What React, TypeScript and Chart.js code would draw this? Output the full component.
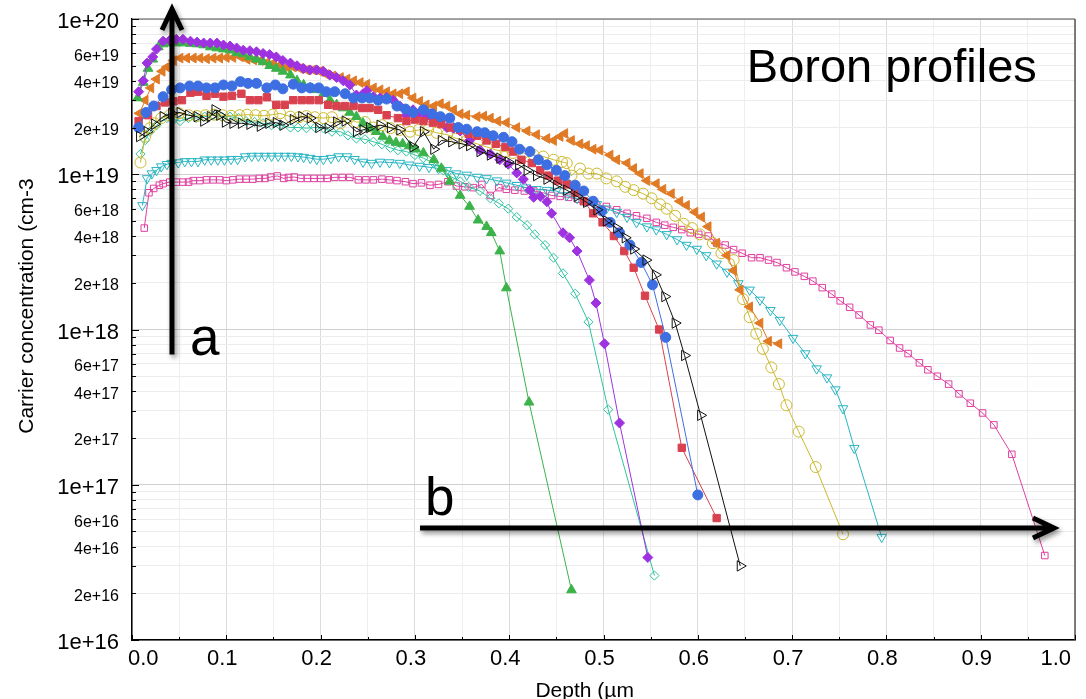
import React, { useEffect, useRef } from 'react';
import { Chart, registerables } from 'chart.js';

Chart.register(...registerables);

const FONT = "'Liberation Sans', Arial, Helvetica, sans-serif";

// ---- axis / tick data ----
const xGridValues = [0, 0.05, 0.1, 0.15, 0.2, 0.25, 0.3, 0.35, 0.4, 0.45, 0.5, 0.55, 0.6, 0.65, 0.7, 0.75, 0.8, 0.85, 0.9, 0.95, 1.0];
const xTickLabels = ['0.0', '', '0.1', '', '0.2', '', '0.3', '', '0.4', '', '0.5', '', '0.6', '', '0.7', '', '0.8', '', '0.9', '', '1.0'];
const yDecades = [16, 17, 18, 19, 20];
const yMultipliers = [1, 2, 3, 4, 5, 6, 7, 8, 9];
const yLabelledMultipliers = [1, 2, 4, 6];
const xTitle = 'Depth (µm';
const yTitle = 'Carrier concentration (cm-3';
const chartTitle = 'Boron profiles';

// ---- series (depth µm, concentration cm-3) ----
const purple: [number, number][] = [[0.007,3.4e19],[0.012,4.0e19],[0.016,5.2e19],[0.022,5.7e19],[0.026,6.4e19],[0.033,7.2e19],[0.040,7.3e19],[0.047,7.4e19],[0.054,7.4e19],[0.062,7.2e19],[0.069,7.1e19],[0.076,7.0e19],[0.083,7.0e19],[0.090,7.0e19],[0.097,6.8e19],[0.104,6.7e19],[0.111,6.5e19],[0.118,6.3e19],[0.125,6.25e19],[0.132,6.15e19],[0.139,6.0e19],[0.146,5.9e19],[0.153,5.7e19],[0.160,5.4e19],[0.168,5.2e19],[0.175,5.0e19],[0.182,4.8e19],[0.189,4.7e19],[0.196,4.7e19],[0.203,4.6e19],[0.210,4.35e19],[0.217,4.2e19],[0.224,4.0e19],[0.231,3.76e19],[0.238,3.24e19],[0.245,3.3e19],[0.249,3.45e19],[0.256,3.16e19],[0.263,3.1e19],[0.270,3.13e19],[0.277,3.0e19],[0.284,2.75e19],[0.291,2.4e19],[0.298,2.6e19],[0.305,2.5e19],[0.312,2.35e19],[0.320,2.3e19],[0.327,2.2e19],[0.334,2.0e19],[0.341,1.98e19],[0.348,1.9e19],[0.358,1.65e19],[0.369,1.43e19],[0.380,1.35e19],[0.390,1.24e19],[0.399,1.16e19],[0.408,1.02e19],[0.415,9.3e18],[0.422,7.9e18],[0.426,7.1e18],[0.433,7.2e18],[0.440,6.65e18],[0.445,5.6e18],[0.457,4.2e18],[0.464,3.9e18],[0.472,3.2e18],[0.485,2.08e18],[0.492,1.48e18],[0.501,8.1e17],[0.517,2.5e17],[0.547,3.4e16]];

const green: [number, number][] = [[0.006,3.1e19],[0.012,3.9e19],[0.017,4.8e19],[0.022,5.5e19],[0.028,6.6e19],[0.033,6.9e19],[0.040,7.0e19],[0.047,7.0e19],[0.054,7.0e19],[0.062,6.95e19],[0.069,6.9e19],[0.076,6.8e19],[0.083,6.6e19],[0.090,6.5e19],[0.097,6.4e19],[0.104,6.3e19],[0.111,6.05e19],[0.118,5.95e19],[0.125,5.7e19],[0.132,5.5e19],[0.139,5.3e19],[0.146,5.0e19],[0.153,4.8e19],[0.160,4.6e19],[0.168,4.35e19],[0.175,4.0e19],[0.182,3.76e19],[0.189,3.6e19],[0.196,3.5e19],[0.203,3.3e19],[0.210,3.0e19],[0.217,2.8e19],[0.224,2.67e19],[0.231,2.5e19],[0.238,2.35e19],[0.245,2.13e19],[0.252,1.98e19],[0.259,1.88e19],[0.266,1.75e19],[0.273,1.65e19],[0.280,1.6e19],[0.287,1.57e19],[0.294,1.52e19],[0.301,1.45e19],[0.309,1.37e19],[0.320,1.24e19],[0.328,1.09e19],[0.337,9.0e18],[0.348,7.3e18],[0.358,6.2e18],[0.367,5.06e18],[0.376,4.6e18],[0.381,4.2e18],[0.390,3.2e18],[0.397,1.85e18],[0.421,3.4e17],[0.466,2.1e16]];

const orange: [number, number][] = [[0.008,2.47e19],[0.014,3.0e19],[0.020,3.6e19],[0.026,4.1e19],[0.032,4.6e19],[0.037,4.9e19],[0.044,5.4e19],[0.051,5.6e19],[0.058,5.6e19],[0.065,5.6e19],[0.072,5.6e19],[0.079,5.55e19],[0.086,5.6e19],[0.093,5.6e19],[0.100,5.65e19],[0.107,5.65e19],[0.115,5.7e19],[0.122,5.5e19],[0.129,5.45e19],[0.136,5.4e19],[0.143,5.25e19],[0.150,5.2e19],[0.157,5.06e19],[0.164,4.9e19],[0.171,4.9e19],[0.178,4.8e19],[0.185,4.7e19],[0.192,4.7e19],[0.199,4.6e19],[0.206,4.4e19],[0.213,4.3e19],[0.221,4.2e19],[0.228,4.1e19],[0.235,4.0e19],[0.242,3.9e19],[0.249,3.8e19],[0.256,3.6e19],[0.263,3.5e19],[0.270,3.4e19],[0.277,3.3e19],[0.284,3.3e19],[0.291,3.4e19],[0.298,3.1e19],[0.305,2.95e19],[0.312,2.8e19],[0.320,2.75e19],[0.327,2.85e19],[0.334,2.75e19],[0.341,2.6e19],[0.348,2.45e19],[0.355,2.4e19],[0.366,2.35e19],[0.373,2.37e19],[0.380,2.3e19],[0.388,2.2e19],[0.397,2.15e19],[0.408,2.0e19],[0.419,1.9e19],[0.429,1.8e19],[0.440,1.7e19],[0.447,1.65e19],[0.454,1.75e19],[0.459,1.83e19],[0.466,1.65e19],[0.475,1.57e19],[0.482,1.53e19],[0.489,1.45e19],[0.496,1.43e19],[0.507,1.33e19],[0.514,1.24e19],[0.525,1.18e19],[0.532,1.09e19],[0.539,1.01e19],[0.546,9.1e18],[0.556,8.7e18],[0.563,8.0e18],[0.572,7.5e18],[0.581,6.7e18],[0.588,6.3e18],[0.597,5.7e18],[0.604,5.3e18],[0.611,4.6e18],[0.620,3.6e18],[0.631,3.0e18],[0.638,2.4e18],[0.645,1.8e18],[0.655,1.4e18],[0.666,1.1e18],[0.675,8.4e17],[0.686,8.1e17]];

const blue: [number, number][] = [[0.007,2.0e19],[0.015,2.5e19],[0.023,2.75e19],[0.033,3.16e19],[0.042,3.5e19],[0.051,3.6e19],[0.061,3.7e19],[0.070,3.7e19],[0.079,3.6e19],[0.088,3.6e19],[0.097,3.76e19],[0.106,3.7e19],[0.115,3.95e19],[0.123,3.85e19],[0.132,3.85e19],[0.143,3.6e19],[0.152,3.76e19],[0.160,3.55e19],[0.171,3.8e19],[0.180,3.6e19],[0.189,3.6e19],[0.198,3.6e19],[0.206,3.4e19],[0.215,3.4e19],[0.226,3.3e19],[0.235,3.1e19],[0.244,3.1e19],[0.252,3.1e19],[0.261,3.0e19],[0.270,3.05e19],[0.281,2.75e19],[0.290,2.63e19],[0.298,2.5e19],[0.309,2.6e19],[0.318,2.45e19],[0.327,2.35e19],[0.337,2.3e19],[0.346,2.0e19],[0.355,1.95e19],[0.366,1.88e19],[0.374,1.85e19],[0.383,1.77e19],[0.394,1.73e19],[0.403,1.62e19],[0.411,1.45e19],[0.422,1.4e19],[0.431,1.24e19],[0.440,1.15e19],[0.450,1.06e19],[0.459,9.8e18],[0.470,8.5e18],[0.479,7.8e18],[0.489,6.7e18],[0.498,5.8e18],[0.507,4.9e18],[0.517,4.2e18],[0.528,3.5e18],[0.540,2.7e18],[0.552,1.94e18],[0.566,8.9e17],[0.600,8.6e16]];

const red: [number, number][] = [[0.007,2.2e19],[0.017,2.4e19],[0.026,2.75e19],[0.035,2.9e19],[0.044,2.95e19],[0.053,3.0e19],[0.062,3.35e19],[0.070,3.4e19],[0.079,3.2e19],[0.088,3.3e19],[0.097,3.16e19],[0.106,3.2e19],[0.116,3.3e19],[0.125,3.0e19],[0.134,3.0e19],[0.143,3.13e19],[0.153,2.8e19],[0.162,2.8e19],[0.171,3.0e19],[0.180,3.0e19],[0.189,3.0e19],[0.198,3.0e19],[0.208,2.8e19],[0.217,2.75e19],[0.226,2.75e19],[0.235,2.75e19],[0.244,2.67e19],[0.252,2.67e19],[0.261,2.6e19],[0.270,2.4e19],[0.282,2.3e19],[0.291,2.2e19],[0.300,2.25e19],[0.309,2.2e19],[0.319,2.15e19],[0.328,2.1e19],[0.338,2.0e19],[0.348,1.93e19],[0.357,1.82e19],[0.366,1.77e19],[0.376,1.65e19],[0.386,1.57e19],[0.396,1.5e19],[0.404,1.4e19],[0.413,1.24e19],[0.424,1.18e19],[0.433,1.06e19],[0.442,9.8e18],[0.452,9.1e18],[0.461,8.6e18],[0.470,7.6e18],[0.479,6.7e18],[0.489,5.6e18],[0.499,4.9e18],[0.511,4.0e18],[0.522,3.2e18],[0.532,2.5e18],[0.544,1.65e18],[0.559,1.0e18],[0.583,1.73e17],[0.620,6.1e16]];

const black: [number, number][] = [[0.008,1.75e19],[0.016,1.88e19],[0.024,2.1e19],[0.033,2.35e19],[0.042,2.47e19],[0.051,2.5e19],[0.060,2.4e19],[0.069,2.35e19],[0.076,2.2e19],[0.083,2.35e19],[0.088,2.6e19],[0.093,2.4e19],[0.099,2.17e19],[0.107,2.13e19],[0.116,2.13e19],[0.125,2.1e19],[0.136,2.04e19],[0.145,2.13e19],[0.153,2.15e19],[0.160,2.07e19],[0.171,2.25e19],[0.180,2.35e19],[0.189,2.3e19],[0.198,2.0e19],[0.208,1.98e19],[0.217,2.17e19],[0.226,2.2e19],[0.238,1.88e19],[0.245,1.93e19],[0.252,2.0e19],[0.263,2.07e19],[0.274,2.0e19],[0.284,1.93e19],[0.298,1.5e19],[0.309,1.88e19],[0.320,1.45e19],[0.328,1.65e19],[0.339,1.62e19],[0.350,1.57e19],[0.358,1.53e19],[0.369,1.4e19],[0.380,1.33e19],[0.390,1.27e19],[0.399,1.2e19],[0.410,1.15e19],[0.419,1.06e19],[0.429,9.8e18],[0.440,9.3e18],[0.450,8.5e18],[0.461,7.9e18],[0.472,7.2e18],[0.482,6.6e18],[0.493,5.9e18],[0.503,5.0e18],[0.514,4.5e18],[0.523,3.9e18],[0.532,3.3e18],[0.545,2.8e18],[0.555,2.25e18],[0.565,1.63e18],[0.576,1.1e18],[0.586,6.8e17],[0.603,2.8e17],[0.645,3.0e16]];

const yellow: [number, number][] = [[0.009,1.19e19],[0.014,1.75e19],[0.019,1.98e19],[0.024,2.13e19],[0.031,2.3e19],[0.040,2.4e19],[0.050,2.47e19],[0.060,2.4e19],[0.069,2.37e19],[0.078,2.4e19],[0.087,2.42e19],[0.096,2.4e19],[0.105,2.38e19],[0.114,2.4e19],[0.122,2.42e19],[0.131,2.4e19],[0.140,2.38e19],[0.149,2.42e19],[0.157,2.47e19],[0.168,2.35e19],[0.177,2.33e19],[0.185,2.37e19],[0.194,2.33e19],[0.203,2.3e19],[0.212,2.33e19],[0.221,2.13e19],[0.230,2.3e19],[0.238,2.17e19],[0.247,2.17e19],[0.256,2.0e19],[0.265,2.07e19],[0.274,1.98e19],[0.284,1.93e19],[0.295,1.88e19],[0.304,1.93e19],[0.314,1.93e19],[0.323,1.85e19],[0.334,1.8e19],[0.344,1.7e19],[0.355,1.65e19],[0.366,1.57e19],[0.376,1.5e19],[0.387,1.43e19],[0.396,1.4e19],[0.404,1.37e19],[0.415,1.37e19],[0.426,1.33e19],[0.436,1.3e19],[0.447,1.24e19],[0.456,1.2e19],[0.461,1.18e19],[0.466,9.8e18],[0.475,1.09e19],[0.484,1.01e19],[0.493,1.01e19],[0.503,9.4e18],[0.514,9.0e18],[0.523,8.3e18],[0.532,7.9e18],[0.542,7.5e18],[0.551,7.0e18],[0.560,6.4e18],[0.567,6.0e18],[0.576,5.4e18],[0.585,4.8e18],[0.594,4.5e18],[0.602,4.1e18],[0.616,3.6e18],[0.625,3.1e18],[0.638,2.8e18],[0.648,1.57e18],[0.655,1.2e18],[0.662,9.4e17],[0.669,7.5e17],[0.678,5.7e17],[0.686,4.45e17],[0.694,3.25e17],[0.707,2.2e17],[0.725,1.3e17],[0.754,4.8e16]];

const teal: [number, number][] = [[0.009,1.35e19],[0.014,1.66e19],[0.019,1.88e19],[0.026,2.07e19],[0.037,2.3e19],[0.044,2.25e19],[0.051,2.2e19],[0.060,2.3e19],[0.068,2.3e19],[0.077,2.35e19],[0.086,2.4e19],[0.095,2.35e19],[0.104,2.35e19],[0.113,2.3e19],[0.121,2.2e19],[0.130,2.17e19],[0.139,2.13e19],[0.148,2.07e19],[0.157,2.07e19],[0.168,2.0e19],[0.176,2.0e19],[0.185,1.98e19],[0.194,2.0e19],[0.203,1.98e19],[0.212,1.88e19],[0.221,1.88e19],[0.229,1.78e19],[0.238,1.7e19],[0.247,1.68e19],[0.256,1.62e19],[0.265,1.56e19],[0.274,1.48e19],[0.282,1.43e19],[0.291,1.4e19],[0.300,1.33e19],[0.309,1.27e19],[0.320,1.18e19],[0.330,1.06e19],[0.339,9.6e18],[0.348,9.0e18],[0.357,8.3e18],[0.369,7.8e18],[0.380,7.0e18],[0.389,6.5e18],[0.399,6.0e18],[0.408,5.3e18],[0.419,4.7e18],[0.427,4.1e18],[0.438,3.5e18],[0.447,2.9e18],[0.457,2.3e18],[0.470,1.7e18],[0.484,1.12e18],[0.505,3.05e17],[0.554,2.6e16]];

const cyan: [number, number][] = [[0.011,6.3e18],[0.016,9.4e18],[0.021,1.01e19],[0.026,1.06e19],[0.031,1.12e19],[0.037,1.16e19],[0.042,1.18e19],[0.049,1.19e19],[0.056,1.21e19],[0.063,1.21e19],[0.070,1.21e19],[0.077,1.24e19],[0.084,1.24e19],[0.091,1.24e19],[0.098,1.24e19],[0.105,1.25e19],[0.112,1.25e19],[0.120,1.3e19],[0.127,1.31e19],[0.134,1.31e19],[0.141,1.31e19],[0.148,1.31e19],[0.155,1.31e19],[0.162,1.31e19],[0.169,1.31e19],[0.176,1.3e19],[0.182,1.29e19],[0.189,1.27e19],[0.196,1.25e19],[0.203,1.25e19],[0.211,1.27e19],[0.219,1.3e19],[0.228,1.3e19],[0.236,1.25e19],[0.245,1.2e19],[0.254,1.18e19],[0.263,1.2e19],[0.273,1.19e19],[0.284,1.18e19],[0.294,1.15e19],[0.305,1.13e19],[0.315,1.11e19],[0.325,1.09e19],[0.334,1.06e19],[0.344,1.01e19],[0.355,9.9e18],[0.366,9.6e18],[0.376,9.4e18],[0.387,9.1e18],[0.397,8.8e18],[0.408,8.5e18],[0.418,8.2e18],[0.429,8.0e18],[0.440,7.9e18],[0.450,7.8e18],[0.461,7.3e18],[0.472,7.0e18],[0.482,6.7e18],[0.493,6.4e18],[0.503,6.0e18],[0.514,5.7e18],[0.525,5.3e18],[0.535,4.9e18],[0.546,4.6e18],[0.556,4.4e18],[0.567,4.1e18],[0.578,3.8e18],[0.588,3.5e18],[0.599,3.3e18],[0.609,3.0e18],[0.620,2.65e18],[0.631,2.35e18],[0.643,1.98e18],[0.655,1.8e18],[0.666,1.55e18],[0.677,1.33e18],[0.687,1.15e18],[0.701,8.8e17],[0.714,7.0e17],[0.726,5.6e17],[0.737,4.9e17],[0.746,4.1e17],[0.754,3.1e17],[0.766,1.72e17],[0.795,4.6e16]];

const pink: [number, number][] = [[0.013,4.5e18],[0.018,7.6e18],[0.023,8.1e18],[0.029,8.5e18],[0.033,8.7e18],[0.040,8.9e18],[0.047,8.9e18],[0.054,8.9e18],[0.060,8.9e18],[0.065,9.1e18],[0.072,9.1e18],[0.079,9.2e18],[0.086,9.2e18],[0.093,9.2e18],[0.100,9.1e18],[0.107,9.2e18],[0.114,9.3e18],[0.121,9.3e18],[0.128,9.3e18],[0.135,9.4e18],[0.141,9.4e18],[0.147,9.6e18],[0.154,9.75e18],[0.161,9.4e18],[0.166,9.55e18],[0.172,9.6e18],[0.179,9.4e18],[0.186,9.4e18],[0.193,9.4e18],[0.200,9.4e18],[0.207,9.4e18],[0.215,9.55e18],[0.223,9.55e18],[0.231,9.55e18],[0.240,9.2e18],[0.248,9.2e18],[0.256,9.2e18],[0.265,9.3e18],[0.273,9.2e18],[0.281,9.1e18],[0.290,8.95e18],[0.298,8.7e18],[0.307,8.8e18],[0.316,8.5e18],[0.325,8.6e18],[0.335,8.95e18],[0.344,8.4e18],[0.353,8.3e18],[0.362,8.2e18],[0.371,8.6e18],[0.380,7.3e18],[0.389,8.2e18],[0.397,8.0e18],[0.406,7.9e18],[0.416,7.8e18],[0.426,7.8e18],[0.436,7.6e18],[0.445,7.3e18],[0.454,7.2e18],[0.463,7.1e18],[0.473,6.9e18],[0.482,6.6e18],[0.492,6.4e18],[0.503,6.2e18],[0.514,5.9e18],[0.525,5.6e18],[0.535,5.4e18],[0.546,5.2e18],[0.556,4.9e18],[0.565,4.7e18],[0.574,4.55e18],[0.583,4.4e18],[0.592,4.2e18],[0.601,4.1e18],[0.611,4.0e18],[0.620,3.6e18],[0.629,3.5e18],[0.638,3.27e18],[0.647,3.1e18],[0.657,2.9e18],[0.666,2.9e18],[0.675,2.8e18],[0.684,2.7e18],[0.694,2.5e18],[0.703,2.35e18],[0.713,2.2e18],[0.722,2.05e18],[0.732,1.86e18],[0.742,1.69e18],[0.751,1.53e18],[0.761,1.39e18],[0.771,1.24e18],[0.783,1.07e18],[0.792,9.9e17],[0.804,8.5e17],[0.814,7.6e17],[0.823,7.0e17],[0.835,6.1e17],[0.844,5.5e17],[0.854,5.0e17],[0.866,4.45e17],[0.877,3.85e17],[0.889,3.35e17],[0.902,2.9e17],[0.914,2.43e17],[0.933,1.57e17],[0.968,3.5e16]];

// ---- annotation anchors (data units) ----
const arrowA = { x: 0.0424, yFrom: 6.9e17, yTo: 1.16e20 };
const arrowB = { y: 5.26e16, xFrom: 0.3054, xTo: 0.9777 };
const labelA = { text: 'a', x: 0.0615, y: 6.9e17 };
const labelB = { text: 'b', x: 0.3107, y: 6.38e16 };
const titleAnchor = { x: 0.652, y: 3.93e19 };

type Tick = { value: number; major: boolean; label: string };
const yGridTicks: Tick[] = [];
yDecades.forEach((d) => {
  yMultipliers.forEach((m) => {
    if (d === 20 && m > 1) return;
    const value = m * Math.pow(10, d);
    const label = yLabelledMultipliers.includes(m) ? (m === 1 ? `1e+${d}` : `${m}e+${d}`) : '';
    yGridTicks.push({ value, major: m === 1, label });
  });
});

function drawArrow(ctx: CanvasRenderingContext2D, x1: number, y1: number, x2: number, y2: number) {
  const ang = Math.atan2(y2 - y1, x2 - x1);
  const c = Math.cos(ang), s = Math.sin(ang);
  const hl = 21, hw = 10;
  ctx.save();
  ctx.shadowColor = 'rgba(0,0,0,0.45)';
  ctx.shadowBlur = 5;
  ctx.shadowOffsetX = 2;
  ctx.shadowOffsetY = 3;
  ctx.strokeStyle = '#000';
  ctx.lineWidth = 5;
  ctx.lineCap = 'butt';
  ctx.lineJoin = 'miter';
  ctx.beginPath();
  ctx.moveTo(x1, y1);
  ctx.lineTo(x2 - c * 3, y2 - s * 3);
  ctx.moveTo(x2 - hl * c - hw * s, y2 - hl * s + hw * c);
  ctx.lineTo(x2, y2);
  ctx.lineTo(x2 - hl * c + hw * s, y2 - hl * s - hw * c);
  ctx.stroke();
  ctx.restore();
}

const overlayPlugin = {
  id: 'overlay',
  afterDraw(chart: any) {
    const { ctx, chartArea } = chart;
    const xs = chart.scales.x;
    const ys = chart.scales.y;
    ctx.save();
    // frame top & right
    ctx.strokeStyle = '#8a8a8a';
    ctx.lineWidth = 1.5;
    ctx.beginPath();
    ctx.moveTo(chartArea.left, chartArea.top);
    ctx.lineTo(chartArea.right, chartArea.top);
    ctx.stroke();
    ctx.strokeStyle = '#555';
    ctx.beginPath();
    ctx.moveTo(chartArea.right, chartArea.top);
    ctx.lineTo(chartArea.right, chartArea.bottom);
    ctx.stroke();
    // inner tick marks
    ctx.strokeStyle = '#000';
    ctx.lineWidth = 1;
    ctx.beginPath();
    yGridTicks.forEach((t) => {
      const py = Math.round(ys.getPixelForValue(t.value)) + 0.5;
      ctx.moveTo(chartArea.left, py);
      ctx.lineTo(chartArea.left + (t.major ? 7 : 4), py);
    });
    xGridValues.forEach((v, i) => {
      const px = Math.round(xs.getPixelForValue(v)) + 0.5;
      ctx.moveTo(px, chartArea.bottom);
      ctx.lineTo(px, chartArea.bottom - (i % 2 === 0 ? 5 : 3));
    });
    ctx.stroke();

    // axis titles
    ctx.fillStyle = '#000';
    ctx.font = `21px ${FONT}`;
    ctx.textAlign = 'center';
    ctx.textBaseline = 'alphabetic';
    ctx.fillText(xTitle, chartArea.left + 0.48 * (chartArea.right - chartArea.left), 697);
    ctx.save();
    ctx.translate(33, 306);
    ctx.rotate(-Math.PI / 2);
    ctx.fillText(yTitle, 0, 0);
    ctx.restore();

    // annotations
    ctx.textAlign = 'left';
    ctx.font = `47px ${FONT}`;
    ctx.fillText(chartTitle, xs.getPixelForValue(titleAnchor.x), ys.getPixelForValue(titleAnchor.y));
    ctx.font = `53px ${FONT}`;
    ctx.fillText(labelA.text, xs.getPixelForValue(labelA.x), ys.getPixelForValue(labelA.y));
    ctx.fillText(labelB.text, xs.getPixelForValue(labelB.x), ys.getPixelForValue(labelB.y));

    drawArrow(ctx, xs.getPixelForValue(arrowA.x), ys.getPixelForValue(arrowA.yFrom), xs.getPixelForValue(arrowA.x), ys.getPixelForValue(arrowA.yTo));
    drawArrow(ctx, xs.getPixelForValue(arrowB.xFrom), ys.getPixelForValue(arrowB.y), xs.getPixelForValue(arrowB.xTo), ys.getPixelForValue(arrowB.y));
    ctx.restore();
  },
};

type SeriesDef = {
  data: [number, number][];
  color: string;
  style: string;
  rotation: number;
  radius: number;
  filled: boolean;
};

const seriesDefs: SeriesDef[] = [
  { data: black, color: '#111111', style: 'triangle', rotation: 90, radius: 6, filled: false },
  { data: blue, color: '#3d6fe3', style: 'circle', rotation: 0, radius: 5, filled: true },
  { data: red, color: '#d9414f', style: 'rect', rotation: 0, radius: 5.2, filled: true },
  { data: purple, color: '#9e32e0', style: 'rectRot', rotation: 0, radius: 5, filled: true },
  { data: green, color: '#3bb24a', style: 'triangle', rotation: 0, radius: 5.6, filled: true },
  { data: orange, color: '#e07a25', style: 'triangle', rotation: -90, radius: 5.6, filled: true },
  { data: yellow, color: '#cbb92c', style: 'circle', rotation: 0, radius: 5.5, filled: false },
  { data: teal, color: '#2fc39f', style: 'rectRot', rotation: 0, radius: 4.6, filled: false },
  { data: cyan, color: '#28b5c2', style: 'triangle', rotation: 180, radius: 5.5, filled: false },
  { data: pink, color: '#e03fa0', style: 'rect', rotation: 0, radius: 4.6, filled: false },
];

export default function App() {
  const canvasRef = useRef<HTMLCanvasElement | null>(null);

  useEffect(() => {
    if (!canvasRef.current) return;
    const datasets = seriesDefs.map((s) => ({
      data: s.data,
      borderColor: s.color,
      backgroundColor: s.filled ? s.color : 'rgba(255,255,255,0)',
      pointBorderColor: s.color,
      pointBackgroundColor: s.filled ? s.color : 'rgba(255,255,255,0)',
      pointStyle: s.style,
      pointRotation: s.rotation,
      pointRadius: s.radius,
      pointBorderWidth: 1,
      borderWidth: 1,
      tension: 0,
      fill: false,
    }));

    const chart = new Chart(canvasRef.current, {
      type: 'line',
      data: { datasets } as any,
      plugins: [overlayPlugin],
      options: {
        animation: false,
        responsive: false,
        layout: { padding: { left: 0, top: 19, right: 11, bottom: 0 } },
        plugins: { legend: { display: false }, tooltip: { enabled: false } },
        scales: {
          x: {
            type: 'linear',
            min: 0,
            max: 1,
            afterBuildTicks: (s: any) => {
              s.ticks = xGridValues.map((v, i) => ({ value: v, major: i % 2 === 0 }));
            },
            afterFit: (s: any) => {
              s.height = 59;
              s.paddingLeft = 0;
              s.paddingRight = 0;
            },
            grid: {
              drawTicks: false,
              color: (ctx: any) => (ctx.tick && ctx.tick.major ? '#dcdcdc' : '#eeeeee'),
              lineWidth: 1,
            },
            border: { color: '#000', width: 1.5 },
            ticks: {
              autoSkip: false,
              maxRotation: 0,
              minRotation: 0,
              align: 'inner',
              labelOffset: -4,
              padding: 6,
              color: '#000',
              font: { family: FONT, size: 22 },
              callback: (_v: any, i: number) => xTickLabels[i],
            },
          },
          y: {
            type: 'logarithmic',
            min: 1e16,
            max: 1e20,
            afterBuildTicks: (s: any) => {
              s.ticks = yGridTicks.map((t) => ({ value: t.value, major: t.major }));
            },
            afterFit: (s: any) => {
              s.width = 132;
              s.paddingTop = 0;
              s.paddingBottom = 0;
            },
            grid: {
              drawTicks: false,
              color: (ctx: any) => (ctx.tick && ctx.tick.major ? '#cfcfcf' : '#ececec'),
              lineWidth: 1,
            },
            border: { color: '#000', width: 1.5 },
            ticks: {
              autoSkip: false,
              padding: 13,
              labelOffset: 3,
              color: '#000',
              font: (ctx: any) => ({ family: FONT, size: ctx.tick && ctx.tick.major ? 22 : 16 }),
              callback: (_v: any, i: number) => yGridTicks[i].label,
            },
          },
        },
      } as any,
    });
    return () => chart.destroy();
  }, []);

  return (
    <div style={{ position: 'absolute', left: 0, top: 0, width: 1086, height: 699, background: '#fff' }}>
      <canvas ref={canvasRef} width={1086} height={699} style={{ display: 'block' }} />
    </div>
  );
}
